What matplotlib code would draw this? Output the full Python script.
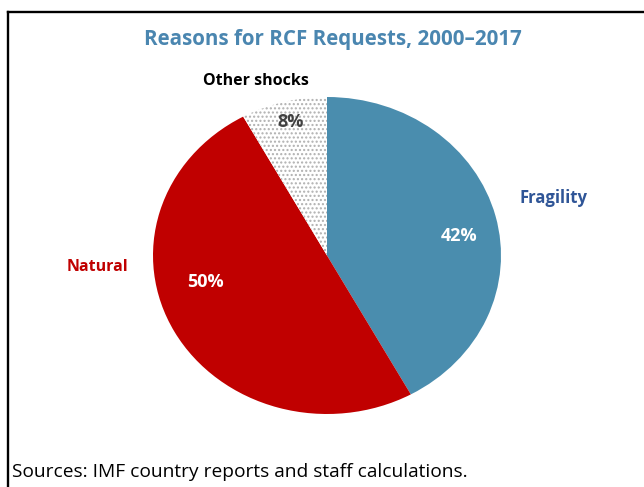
import matplotlib.pyplot as plt
from matplotlib.lines import Line2D

# data
labels = ['Fragility', 'Natural', 'Other shocks']
shares = [42, 50, 8]
colors = ['#4A8DAE', '#C00000', 'white']
label_colors = ['#2F5597', '#C00000', 'black']
pct_colors = ['white', 'white', '#404040']
# text positions (data units of the pie axes, radius 1)
label_pos = [(1.30, 0.36), (-1.32, -0.07), (-0.41, 1.10)]
pct_pos = [(0.76, 0.12), (-0.70, -0.17), (-0.21, 0.84)]

plt.rcParams['font.family'] = ['Open Sans', 'DejaVu Sans']

W, H = 644, 487
fig = plt.figure(figsize=(W / 100, H / 100), dpi=100)

# pie bounding box in pixels: x 153..501, y 97..414
ax = fig.add_axes([153 / W, 1 - 414 / H, 348 / W, 317 / H])
wedges, _ = ax.pie(shares, colors=colors, startangle=90, counterclock=False,
                   radius=1, wedgeprops=dict(linewidth=0))
wedges[2].set_hatch('....')
wedges[2].set_edgecolor('#B0B0B0')
ax.set_aspect('auto')
ax.set_xlim(-1, 1)
ax.set_ylim(-1, 1)
ax.axis('off')

label_sizes = [12, 11.5, 11.5]
for lab, (x, y), c, fs in zip(labels, label_pos, label_colors, label_sizes):
    ax.text(x, y, lab, color=c, fontsize=fs, fontweight='bold',
            ha='center', va='center', clip_on=False)
for s, (x, y), c in zip(shares, pct_pos, pct_colors):
    ax.text(x, y, f'{s}%', color=c, fontsize=13, fontweight='bold',
            ha='center', va='center')

fig.text(333 / W, 1 - 40 / H, 'Reasons for RCF Requests, 2000\u20132017',
         color='#4A86B0', fontsize=14.8, fontweight='bold', ha='center', va='center')
fig.text(12 / W, 1 - 472 / H, 'Sources: IMF country reports and staff calculations.',
         color='black', fontsize=13.8, ha='left', va='center')

# frame lines (top and left)
fig.add_artist(Line2D([7.5 / W, 1], [1 - 12 / H, 1 - 12 / H], color='black', lw=1.7,
                      transform=fig.transFigure, solid_capstyle='projecting'))
fig.add_artist(Line2D([7.5 / W, 7.5 / W], [0, 1 - 12 / H], color='black', lw=1.7,
                      transform=fig.transFigure, solid_capstyle='projecting'))

fig.savefig('out.png', dpi=100)
